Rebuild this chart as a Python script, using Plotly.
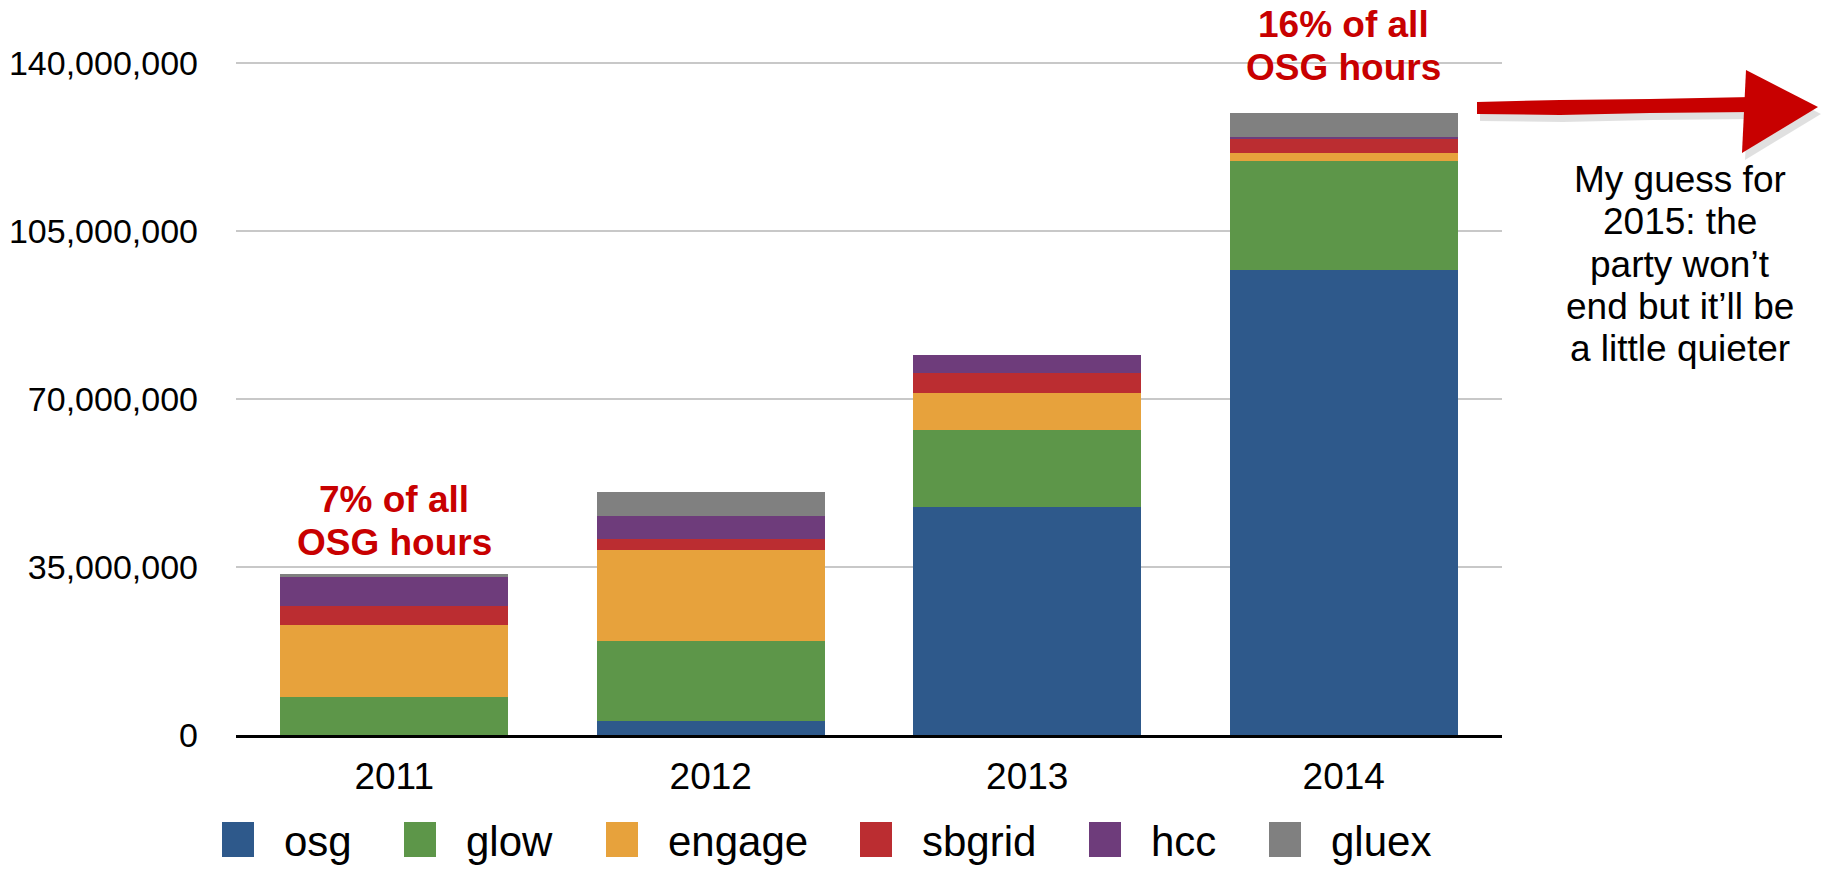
import plotly.graph_objects as go

# ---- data ----
years = ["2011", "2012", "2013", "2014"]
series_names = ["osg", "glow", "engage", "sbgrid", "hcc", "gluex"]
osg = [0, 2.9e6, 47.5e6, 96.9e6]
glow = [7.9e6, 16.7e6, 16.0e6, 22.7e6]
engage = [15.0e6, 19.0e6, 7.75e6, 1.65e6]
sbgrid = [3.95e6, 2.25e6, 4.05e6, 2.95e6]
hcc = [6.1e6, 4.85e6, 3.9e6, 0.45e6]
gluex = [0.5e6, 5.0e6, 0.0, 4.95e6]
series_values = [osg, glow, engage, sbgrid, hcc, gluex]
tick_values = [0, 35e6, 70e6, 105e6, 140e6]

colors = ["#2E598B", "#5D9649", "#E7A23C", "#BB2D31", "#6E3C7B", "#808080"]

# ---- layout geometry (pixels) ----
W, H = 1825, 869
Y_MAX = 141e6
L, R, B = 236, 1502, 735
T = round(B - (B - 63) * Y_MAX / 140e6)
FONT = "Liberation Sans, Arial, Helvetica, sans-serif"
RED = "#C80000"


def px_x(x):
    return (x - L) / (R - L)


def px_y(y):
    return (B - y) / (B - T)


fig = go.Figure()
for name, vals, col in zip(series_names, series_values, colors):
    fig.add_trace(go.Bar(x=years, y=vals, name=name, marker=dict(color=col, line=dict(width=0)),
                         showlegend=False))

shapes = []
annotations = []

# custom legend (large square swatches)
legend_x_px = [222, 404, 606, 860, 1089, 1269]
for name, col, lx in zip(series_names, colors, legend_x_px):
    shapes.append(dict(type="rect", xref="paper", yref="paper",
                       x0=px_x(lx), x1=px_x(lx + 32), y0=px_y(857), y1=px_y(822),
                       fillcolor=col, line=dict(width=0)))
    annotations.append(dict(text=name, xref="paper", yref="paper", x=px_x(lx + 60), y=px_y(841),
                            xanchor="left", yanchor="middle", showarrow=False,
                            font=dict(family=FONT, size=42, color="#000")))

# red callouts (x given as category index)
for cat, lines, baselines in [("2011", ["7% of all", "OSG hours"], [513, 555]),
                              ("2014", ["16% of all", "OSG hours"], [38, 80])]:
    for txt, bl in zip(lines, baselines):
        annotations.append(dict(text="<b>%s</b>" % txt, x=years.index(cat), xref="x", yref="paper",
                                y=px_y(bl - 13), xanchor="center", yanchor="middle",
                                showarrow=False, font=dict(family=FONT, size=37, color=RED)))

# side note, one annotation per line to match the tight line spacing
note_lines = ["My guess for", "2015: the", "party won’t", "end but it’ll be", "a little quieter"]
note_baselines = [193, 235, 277, 319, 361]
for txt, bl in zip(note_lines, note_baselines):
    annotations.append(dict(text=txt, xref="paper", yref="paper", x=px_x(1680), y=px_y(bl - 13),
                            xanchor="center", yanchor="middle", showarrow=False,
                            font=dict(family=FONT, size=37, color="#000")))

# hand-drawn style arrow (shadow + shape)
def path_from(points, dx=0, dy=0):
    s = ""
    for i, (x, y) in enumerate(points):
        s += ("M" if i == 0 else "L") + "%.5f,%.5f " % (px_x(x + dx), px_y(y + dy))
    return s + "Z"

shaft = [(1477, 102), (1560, 100), (1650, 99), (1752, 97), (1752, 112), (1650, 113), (1560, 115), (1477, 114)]
head = [(1746, 70), (1818, 107), (1742, 153)]
for dx, dy, col in [(3, 7, "rgba(0,0,0,0.12)"), (0, 0, RED)]:
    shapes.append(dict(type="path", xref="paper", yref="paper", path=path_from(shaft, dx, dy),
                       fillcolor=col, line=dict(width=0)))
    shapes.append(dict(type="path", xref="paper", yref="paper", path=path_from(head, dx, dy),
                       fillcolor=col, line=dict(width=0)))

fig.update_layout(
    width=W, height=H,
    margin=dict(l=L, r=W - R, t=T, b=H - B, pad=0, autoexpand=False),
    barmode="stack", bargap=0.28,
    plot_bgcolor="white", paper_bgcolor="white",
    font=dict(family=FONT, color="#000"),
    shapes=shapes, annotations=annotations,
    showlegend=False,
)
fig.update_xaxes(type="category", range=[-0.5, 3.5], automargin=False, showgrid=False,
                 showline=True, linecolor="#000", linewidth=3,
                 ticks="", tickfont=dict(size=37, color="#000"), ticklabelstandoff=7)
fig.update_yaxes(range=[0, Y_MAX], automargin=False, tickvals=tick_values, tickformat=",d", showgrid=True,
                 gridcolor="#C8C8C8", gridwidth=1.5, zeroline=False, showline=False, ticks="",
                 tickfont=dict(size=34, color="#000"), ticklabelstandoff=37)

fig.write_html("out.html", config={"displayModeBar": False},
               post_script="document.body.style.margin='0px';")
